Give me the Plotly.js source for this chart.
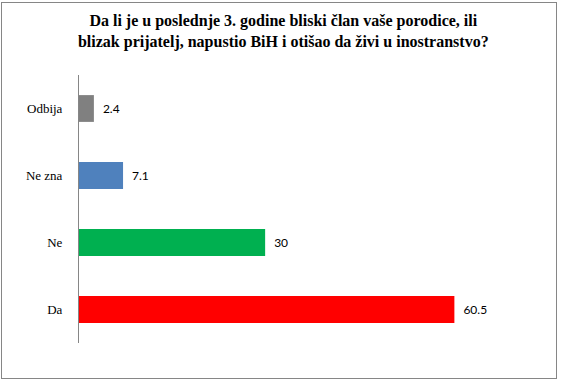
<!DOCTYPE html>
<html>
<head>
<meta charset="utf-8">
<script src="https://cdn.plot.ly/plotly-3.0.1.min.js"></script>
<style>
html,body{margin:0;padding:0;background:#fff;}
#frame{position:absolute;left:1px;top:2px;width:556px;height:377px;border:1px solid #868686;box-sizing:border-box;}
#chart{position:absolute;left:0;top:0;width:561px;height:383px;}
</style>
</head>
<body>
<div id="frame"></div>
<div id="chart"></div>
<script>
const categories = ["Da", "Ne", "Ne zna", "Odbija"];
const values = [60.5, 30, 7.1, 2.4];
const labels = ["60.5", "30", "7.1", "2.4"];
const colors = ["#FF0000", "#00B050", "#4F81BD", "#808080"];
const titleText = "Da li je u poslednje 3. godine bliski član vaše porodice, ili<br>blizak prijatelj, napustio BiH i otišao da živi u inostranstvo?";

const trace = {
  type: "bar",
  orientation: "h",
  y: categories,
  x: values,
  text: labels,
  texttemplate: "\u2002%{text}",
  textposition: "outside",
  cliponaxis: false,
  textfont: {family: "Lato, 'Open Sans', sans-serif", size: 12, color: "#000"},
  marker: {color: colors},
  hoverinfo: "none"
};

const layout = {
  width: 561, height: 383,
  paper_bgcolor: "rgba(0,0,0,0)",
  plot_bgcolor: "rgba(0,0,0,0)",
  margin: {l: 79, r: 21, t: 75, b: 40},
  showlegend: false,
  bargap: 0.6,
  title: {
    text: titleText,
    font: {family: "'Liberation Serif', 'DejaVu Serif', serif", size: 16, color: "#000", weight: "bold"},
    x: 0.505, xanchor: "center", y: 0.932, yanchor: "middle"
  },
  xaxis: {
    range: [0, 74.3],
    showgrid: false, zeroline: false, showline: false,
    showticklabels: false, ticks: "", fixedrange: true
  },
  yaxis: {
    type: "category",
    showgrid: false, zeroline: false,
    showline: true, linecolor: "#868686", linewidth: 1,
    ticks: "", ticklabelstandoff: 13,
    tickfont: {family: "'Liberation Serif', 'DejaVu Serif', serif", size: 13, color: "#000"},
    fixedrange: true
  }
};

Plotly.newPlot("chart", [trace], layout, {displayModeBar: false, staticPlot: true});
</script>
</body>
</html>
